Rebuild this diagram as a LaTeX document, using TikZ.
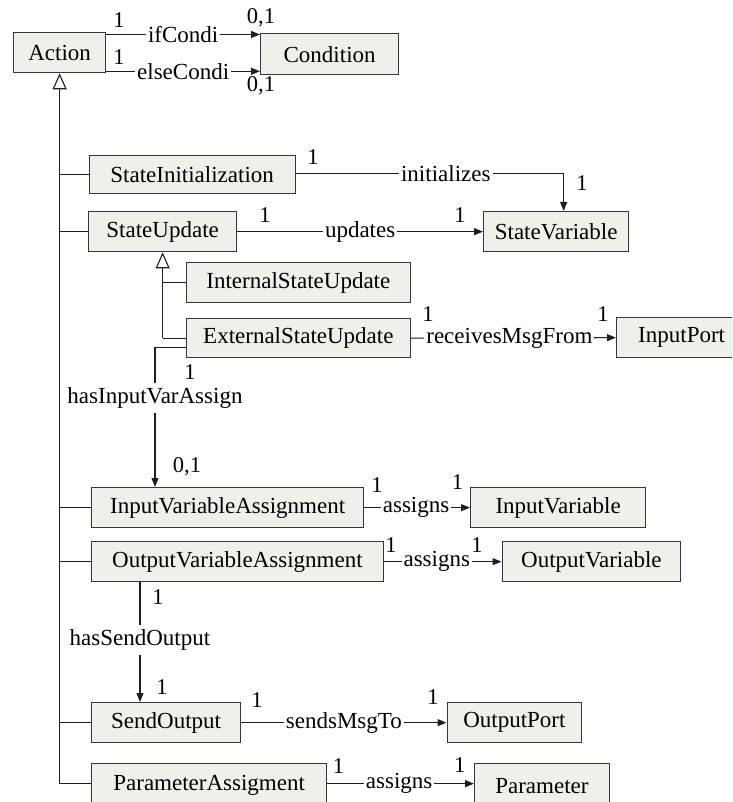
\documentclass[tikz,border=0pt]{standalone}
\usepackage{fontspec}
\setmainfont{Liberation Serif}
\usetikzlibrary{arrows.meta}
\definecolor{boxfill}{RGB}{238,240,234}
\definecolor{boxline}{RGB}{55,55,55}
\definecolor{conncol}{RGB}{30,30,30}
\begin{document}
\begin{tikzpicture}[x=1pt,y=-1pt,
  font=\fontsize{23}{27}\selectfont,
  cls/.style={draw=boxline, fill=boxfill, line width=1.3pt, inner sep=0pt, anchor=north west},
  sz/.style 2 args={minimum width=#1pt, minimum height=#2pt},
  conn/.style={draw=conncol, line width=1.1pt},
  arr/.style={-{Triangle[length=9pt,width=7pt]}},
  genarr/.style={-{Triangle[open,length=16pt,width=14pt,fill=white]}},
  lbl/.style={fill=white, inner xsep=2pt, inner ysep=1pt},
  lblb/.style={inner xsep=2pt, inner ysep=4.5pt},
  mult/.style={font=\fontsize{22.5}{26}\selectfont, inner sep=0pt}
]
\useasboundingbox (0,0) rectangle (732,802);
\fill[white] (0,0) rectangle (732,802);
\clip (0,0) rectangle (732,802);

% classes
\node[cls, sz={92}{40}] (action) at (13,32) {Action};
\node[cls, sz={138}{41}] (cond) at (260,33) {Condition};
\node[cls, sz={206}{38}] (stinit) at (88.5,155) {StateInitialization};
\node[cls, sz={148}{40}] (stupd) at (88,211) {StateUpdate};
\node[cls, sz={145}{40}] (stvar) at (483,211) {StateVariable};
\node[cls, sz={224}{40}] (intsu) at (185.7,262) {InternalStateUpdate};
\node[cls, sz={224}{39}] (extsu) at (185.7,318) {ExternalStateUpdate};
\node[cls, sz={130}{40}] (inport) at (616,317) {InputPort};
\node[cls, sz={272}{40}] (inva) at (91,487) {InputVariableAssignment};
\node[cls, sz={175}{40}] (invar) at (470,487) {InputVariable};
\node[cls, sz={291.5}{40}] (ova) at (91,541) {OutputVariableAssignment};
\node[cls, sz={178.5}{40}] (outvar) at (501.5,541) {OutputVariable};
\node[cls, sz={149}{40}] (so) at (91,702) {SendOutput};
\node[cls, sz={134.5}{40}] (outport) at (446.5,702) {OutputPort};
\node[cls, sz={235}{44}, text height=15pt] (pa) at (91,763) {ParameterAssigment};
\node[cls, sz={134.5}{44}, text height=15pt] (param) at (474,763) {Parameter};

% generalization: Action
\draw[conn, genarr] ([yshift=2pt]action.south |- pa.west) -- (action.south);
\draw[conn] (action.south |- stinit.west) -- (stinit.west);
\draw[conn] (action.south |- stupd.west) -- (stupd.west);
\draw[conn] (action.south |- inva.west) -- (inva.west);
\draw[conn] (action.south |- ova.west) -- (ova.west);
\draw[conn] (action.south |- so.west) -- (so.west);
\draw[conn] ([yshift=2pt]action.south |- pa.west) -- ([yshift=2pt]pa.west);

% generalization: StateUpdate
\draw[conn, genarr] (stupd.south |- extsu.west) -- (stupd.south);
\draw[conn] (stupd.south |- intsu.west) -- (intsu.west);
\draw[conn] (stupd.south |- extsu.west) -- (extsu.west);

% associations
\draw[conn, arr] ([yshift=-2.5pt]action.north east) -- node[lbl]{ifCondi} ([yshift=-1.5pt]cond.north west);
\draw[conn, arr] ([yshift=2pt]action.south east) -- node[lbl]{elseCondi} ([yshift=4pt]cond.south west);
\draw[conn, arr] ([yshift=1pt]stinit.east) -| node[lbl, pos=0.28]{initializes} ([xshift=7.5pt]stvar.north);
\draw[conn, arr] (stupd.east) -- node[lbl]{updates} (stvar.west);
\draw[conn, arr] (extsu.east) -- node[lbl, pos=0.48]{receivesMsgFrom} (inport.west);

\node[lblb] (hiva) at (155,398) {hasInputVarAssign};
\draw[conn] ([yshift=-9.5pt]extsu.west) -| (hiva.north);
\draw[conn, arr] (hiva.south) -- (inva.north -| hiva.south);

\draw[conn, arr] (inva.east) -- node[lbl, pos=0.49]{assigns} (invar.west);
\draw[conn, arr] (ova.east) -- node[lbl, pos=0.45]{assigns} (outvar.west);

\node[lblb] (hso) at (140,640) {hasSendOutput};
\draw[conn] (ova.south -| hso.north) -- (hso.north);
\draw[conn, arr] (hso.south) -- (so.north -| hso.south);

\draw[conn, arr] (so.east) -- node[lbl]{sendsMsgTo} (outport.west);
\draw[conn, arr] ([yshift=2pt]pa.east) -- node[lbl, pos=0.49]{assigns} ([yshift=2pt]param.west);

% multiplicities
\node[mult] (m1) at (119,20) {1};
\node[mult] (m2) at (261,18) {0,1};
\node[mult] (m3) at (119,57) {1};
\node[mult] (m4) at (261,86) {0,1};
\node[mult] (m5) at (313,157) {1};
\node[mult] (m6) at (582,183) {1};
\node[mult] (m7) at (265,215) {1};
\node[mult] (m8) at (460,215) {1};
\node[mult] (m9) at (428,314) {1};
\node[mult] (m10) at (603,314) {1};
\node[mult] (m11) at (190,372) {1};
\node[mult] (m12) at (187,467) {0,1};
\node[mult] (m13) at (377,485) {1};
\node[mult] (m14) at (457.5,482) {1};
\node[mult] (m15) at (391,545) {1};
\node[mult] (m16) at (477,545) {1};
\node[mult] (m17) at (158,597) {1};
\node[mult] (m18) at (162,687) {1};
\node[mult] (m19) at (257,700) {1};
\node[mult] (m20) at (433,697) {1};
\node[mult] (m21) at (338.5,766) {1};
\node[mult] (m22) at (459.7,765) {1};
\end{tikzpicture}
\end{document}
